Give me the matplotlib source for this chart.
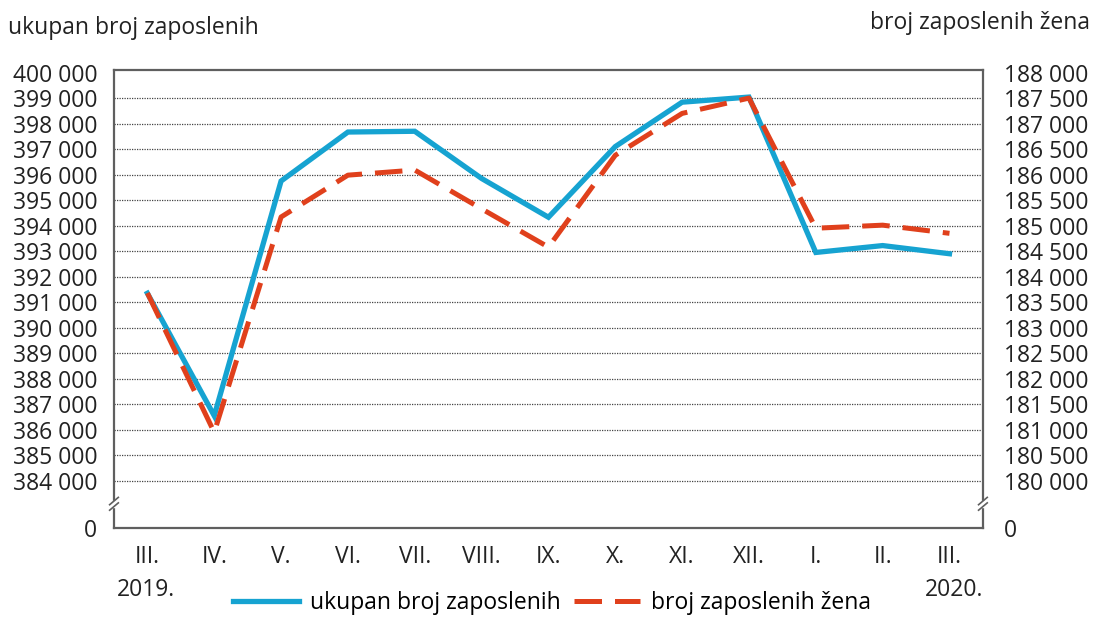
import matplotlib
matplotlib.use("Agg")
import matplotlib.pyplot as plt
import numpy as np

plt.rcParams['font.family'] = ['Open Sans', 'DejaVu Sans']

# data
months = ['III.', 'IV.', 'V.', 'VI.', 'VII.', 'VIII.', 'IX.', 'X.', 'XI.', 'XII.', 'I.', 'II.', 'III.']
ukupno = [391350, 386550, 395750, 397670, 397700, 395850, 394330,
          397100, 398840, 399040, 392950, 393220, 392900]
zene = [183680, 180950, 185170, 185990, 186090, 185330, 184580,
        186380, 187200, 187500, 184950, 185010, 184850]

left_ticks = list(range(384000, 400001, 1000))
right_ticks = list(range(180000, 188001, 500))

blue = '#16a3d1'
red = '#e0401c'
grey = '#5f5f5f'
fs = 16.5

# left axis <-> right axis mapping (same gridlines)
def to_left(r):
    return 384000 + (np.asarray(r) - 180000) * 2

ybot = 382150
ytop = 400100

fig = plt.figure(figsize=(10.97, 6.17), dpi=100)
ax = fig.add_axes([0.1039, 0.1442, 0.7921, 0.7423])
x = np.arange(len(months))

ax.plot(x, ukupno, color=blue, lw=3.8, solid_joinstyle='miter', zorder=3)
ax.plot(x, to_left(zene), color=red, lw=3.6, dashes=(5.5, 2.6), zorder=4)

ax.set_xlim(-0.5, len(months) - 0.5)
ax.set_ylim(ybot, ytop)
ax.set_yticks(left_ticks + [ybot])
ax.set_yticklabels([f"{v:,}".replace(",", " ") for v in left_ticks] + ['0'])
ax.set_xticks(x)
ax.set_xticklabels(months)
ax.tick_params(axis='both', length=0, labelsize=fs, colors='#222222')
ax.tick_params(axis='x', pad=12)
ax.tick_params(axis='y', pad=12)
for v in left_ticks[:-1]:
    ax.axhline(v, color='#444444', lw=0.9, ls=(0, (1, 1)), zorder=1)
for s in ax.spines.values():
    s.set_color(grey)
    s.set_linewidth(1.6)

ax2 = ax.twinx()
ax2.set_ylim(180000 + (ybot - 384000) / 2, 180000 + (ytop - 384000) / 2)
rb = 180000 + (ybot - 384000) / 2
ax2.set_yticks(right_ticks + [rb])
ax2.set_yticklabels([f"{v:,}".replace(",", " ") for v in right_ticks] + ['0'])
ax2.tick_params(axis='y', length=0, labelsize=fs, colors='#222222', pad=15)
for s in ax2.spines.values():
    s.set_visible(False)

# axis break marks
yb = (383100 - ybot) / (ytop - ybot)
for xs in (0, 1):
    ax.add_patch(plt.Rectangle((xs - 0.004, yb - 0.006), 0.008, 0.012,
                               transform=ax.transAxes, color='white',
                               clip_on=False, zorder=5))
    for dy in (-0.006, 0.006):
        ax.plot([xs - 0.005, xs + 0.005], [yb + dy - 0.008, yb + dy + 0.008],
                transform=ax.transAxes, color=grey, lw=1.2,
                clip_on=False, zorder=6)

fig.text(0.007, 0.955, 'ukupan broj zaposlenih', fontsize=fs, color='#222222', va='center')
fig.text(0.994, 0.962, 'broj zaposlenih žena', fontsize=fs, color='#222222', va='center', ha='right')
fig.text(0.133, 0.043, '2019.', fontsize=fs, color='#222222', ha='center', va='center')
fig.text(0.870, 0.043, '2020.', fontsize=fs, color='#222222', ha='center', va='center')

h1, = ax.plot([], [], color=blue, lw=3.8)
h2, = ax.plot([], [], color=red, lw=3.6, dashes=(5.5, 2.6))
fig.legend([h1, h2], ['ukupan broj zaposlenih', 'broj zaposlenih žena'],
           loc='center', bbox_to_anchor=(0.503, 0.022), ncol=2, frameon=False,
           fontsize=fs, handlelength=2.9, handletextpad=0.45, columnspacing=0.6)

fig.savefig('out.png', dpi=100, facecolor='white')
